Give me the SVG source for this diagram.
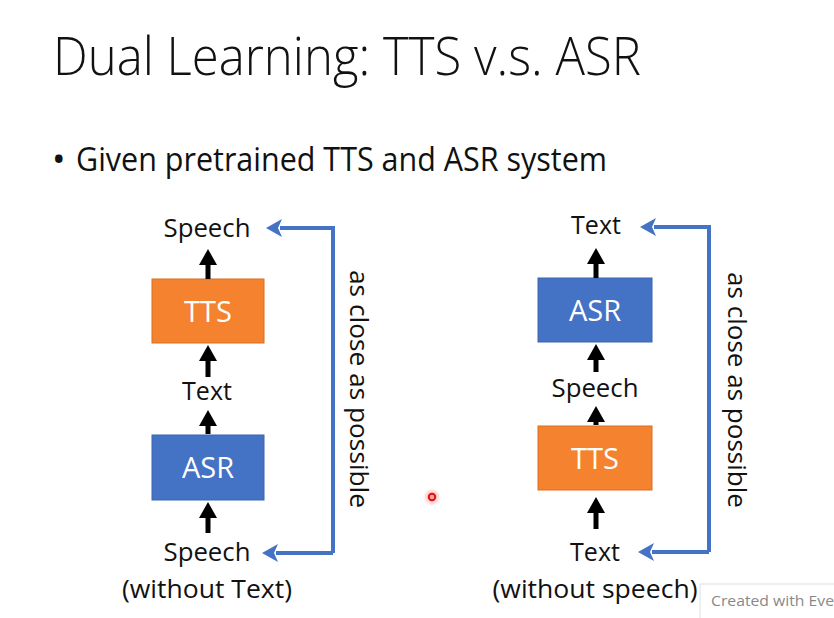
<svg xmlns="http://www.w3.org/2000/svg" width="834" height="618" viewBox="0 0 834 618">
<defs>
<style>
text{font-family:"Open Sans","Noto Sans","Liberation Sans",sans-serif;fill:#111}
.lbl{font-size:25px;text-anchor:middle}
.box{font-size:29px;text-anchor:middle;fill:#fff}
.vt{font-size:25px}
.tts{fill:#F5822F;stroke:#D96F22;stroke-width:1}
.asr{fill:#4472C4;stroke:#3A64AE;stroke-width:1}
.blk{stroke:#000;stroke-width:5;fill:none;marker-end:url(#ah)}
.blu{stroke:#4472C4;stroke-width:4;fill:none;marker-end:url(#bh)}
</style>
<marker id="ah" markerUnits="userSpaceOnUse" markerWidth="18" markerHeight="18" refX="2" refY="9" orient="auto" viewBox="0 0 18 18"><path d="M0,0 L16,9 L0,18 Z" fill="#000"/></marker>
<marker id="bh" markerUnits="userSpaceOnUse" markerWidth="18" markerHeight="18" refX="2" refY="9" orient="auto" viewBox="0 0 18 18"><path d="M0,0 L16,9 L0,18 L4,9 Z" fill="#4472C4"/></marker>
<radialGradient id="glow"><stop offset="0" stop-color="#ff3030" stop-opacity="0.5"/><stop offset="1" stop-color="#ff3030" stop-opacity="0"/></radialGradient>
</defs>
<rect width="834" height="618" fill="#fff"/>
<text x="53" y="75" font-size="54" font-weight="300" textLength="588" lengthAdjust="spacingAndGlyphs">Dual Learning: TTS v.s. ASR</text>
<text x="52" y="172" font-size="36">•</text>
<text x="76" y="171" font-size="32" textLength="531" lengthAdjust="spacingAndGlyphs">Given pretrained TTS and ASR system</text>

<g id="left-speech-out"><text class="lbl" x="207" y="237" textLength="87" lengthAdjust="spacingAndGlyphs">Speech</text></g>
<g id="left-tts"><rect class="tts" x="152" y="279" width="112" height="64"/><text class="box" x="208" y="322">TTS</text></g>
<g id="left-text"><text class="lbl" x="207" y="400">Text</text></g>
<g id="left-asr"><rect class="asr" x="152" y="435" width="112" height="65"/><text class="box" x="208" y="478">ASR</text></g>
<g id="left-speech-in"><text class="lbl" x="207" y="561" textLength="87" lengthAdjust="spacingAndGlyphs">Speech</text><text class="lbl" x="207" y="598" textLength="170" lengthAdjust="spacingAndGlyphs">(without Text)</text></g>
<g id="left-note"><text class="vt" transform="translate(350,270) rotate(90)" textLength="238" lengthAdjust="spacingAndGlyphs">as close as possible</text></g>

<g id="right-text-out"><text class="lbl" x="596" y="234">Text</text></g>
<g id="right-asr"><rect class="asr" x="538" y="278" width="114" height="64"/><text class="box" x="595" y="321">ASR</text></g>
<g id="right-speech"><text class="lbl" x="595" y="397" textLength="87" lengthAdjust="spacingAndGlyphs">Speech</text></g>
<g id="right-tts"><rect class="tts" x="538" y="426" width="114" height="64"/><text class="box" x="595" y="469">TTS</text></g>
<g id="right-text-in"><text class="lbl" x="595" y="561">Text</text><text class="lbl" x="595" y="598" textLength="205" lengthAdjust="spacingAndGlyphs">(without speech)</text></g>
<g id="right-note"><text class="vt" transform="translate(728,272) rotate(90)" textLength="236" lengthAdjust="spacingAndGlyphs">as close as possible</text></g>

<g id="connectors">
<line class="blk" x1="208" y1="279" x2="208" y2="263"/>
<line class="blk" x1="208" y1="377" x2="208" y2="359"/>
<line class="blk" x1="208" y1="434" x2="208" y2="424"/>
<line class="blk" x1="208" y1="533" x2="208" y2="516"/>
<line class="blk" x1="596" y1="278" x2="596" y2="262"/>
<line class="blk" x1="596" y1="372" x2="596" y2="358"/>
<line class="blk" x1="596" y1="425" x2="596" y2="420"/>
<line class="blk" x1="596" y1="529" x2="596" y2="511"/>
<path class="blu" d="M333,553 L333,228 L280,228"/>
<path class="blu" d="M333,553 L276,553"/>
<path class="blu" d="M709,552 L709,227 L654,227"/>
<path class="blu" d="M709,552 L652,552"/>
</g>

<circle cx="432" cy="497" r="9" fill="url(#glow)"/>
<circle cx="432" cy="497" r="3.2" fill="none" stroke="#e01010" stroke-width="2"/>

<rect x="700" y="584" width="140" height="40" fill="#fff" stroke="#ddd"/>
<text x="711" y="606" font-size="14" style="fill:#888" textLength="123" lengthAdjust="spacingAndGlyphs">Created with Eve</text>
</svg>
